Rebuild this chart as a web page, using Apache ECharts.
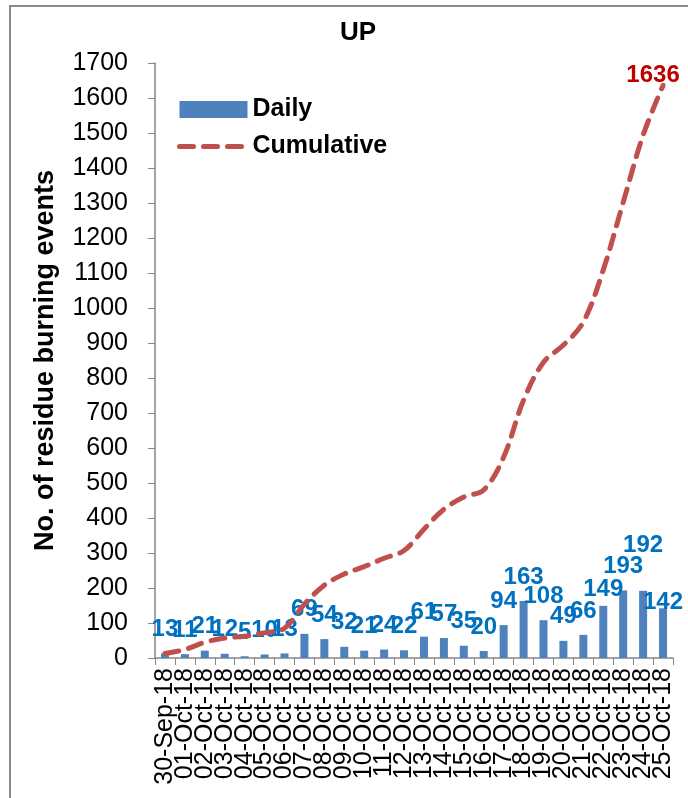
<!DOCTYPE html>
<html>
<head>
<meta charset="utf-8">
<script src="https://cdn.jsdelivr.net/npm/echarts@6/dist/echarts.min.js"></script>
<style>
html,body{margin:0;padding:0;background:#fff;}
#chart{width:688px;height:798px;}
</style>
</head>
<body>
<div id="chart"></div>
<script>
const categories = ['30-Sep-18','01-Oct-18','02-Oct-18','03-Oct-18','04-Oct-18','05-Oct-18','06-Oct-18','07-Oct-18','08-Oct-18','09-Oct-18','10-Oct-18','11-Oct-18','12-Oct-18','13-Oct-18','14-Oct-18','15-Oct-18','16-Oct-18','17-Oct-18','18-Oct-18','19-Oct-18','20-Oct-18','21-Oct-18','22-Oct-18','23-Oct-18','24-Oct-18','25-Oct-18'];
const daily = [13,11,21,12,5,10,13,69,54,32,21,24,22,61,57,35,20,94,163,108,49,66,149,193,192,142];
const cumulative = [13,24,45,57,62,72,85,154,208,240,261,285,307,368,425,460,480,574,737,845,894,960,1109,1302,1494,1636];
const yTicks = {min:0, max:1700, interval:100};

const FONT = '"Liberation Sans", Arial, sans-serif';
// label nudges (layout only), matching manually moved labels in the reference
const labelNudge = {22: 8, 24: -21, 25: 18};

const chart = echarts.init(document.getElementById('chart'), null, {renderer:'canvas'});
const dailyData = daily.map((v, i) => {
  const item = {value: v};
  if (labelNudge[i] !== undefined) item.label = {offset: [0, labelNudge[i]]};
  return item;
});
const lastIdx = cumulative.length - 1;
const cumData = cumulative.map((v, i) => i === lastIdx
  ? {value: v, label: {show: true, position: 'top', distance: 0, offset: [-10, 2], color: '#C00000', fontWeight: 'bold', fontSize: 24, fontFamily: FONT}}
  : v);

const dashStyle = {color: '#C0504D', width: 5, type: [14, 10], cap: 'round'};

chart.setOption({
  animation: false,
  backgroundColor: '#ffffff',
  textStyle: {fontFamily: FONT},
  title: {
    text: 'UP', left: 340, top: 20, padding: 0,
    textStyle: {fontSize: 26, fontWeight: 'bold', color: '#000', fontFamily: FONT}
  },
  graphic: [{
    type: 'rect', shape: {x: 10, y: 6, width: 700, height: 820},
    style: {fill: 'none', stroke: '#8a8a8a', lineWidth: 2}, silent: true
  }],
  legend: {
    orient: 'vertical', left: 172, top: 92, itemWidth: 68, itemHeight: 17, itemGap: 12,
    textStyle: {fontSize: 25, fontWeight: 'bold', color: '#000', fontFamily: FONT},
    data: [
      {name: 'Daily', icon: 'rect'},
      {name: 'Cumulative', itemStyle: {opacity: 0}, lineStyle: {width: 5, type: [14, 10], cap: 'round', color: '#C0504D'}}
    ]
  },
  grid: {left: 155, right: 15, top: 63, bottom: 140, containLabel: false},
  xAxis: {
    type: 'category', data: categories, boundaryGap: true,
    axisLine: {lineStyle: {color: '#868686', width: 1.5}},
    axisTick: {show: true, length: 7, lineStyle: {color: '#868686'}},
    axisLabel: {interval: 0, rotate: 90, fontSize: 25, color: '#000', margin: 10, fontFamily: FONT}
  },
  yAxis: {
    type: 'value', min: yTicks.min, max: yTicks.max, interval: yTicks.interval,
    name: 'No. of residue burning events', nameLocation: 'middle', nameRotate: 90, nameGap: 96,
    nameTextStyle: {fontSize: 27, fontWeight: 'bold', color: '#000', fontFamily: FONT},
    axisLine: {show: true, lineStyle: {color: '#868686', width: 1.5}},
    axisTick: {show: true, length: 7, lineStyle: {color: '#868686'}},
    splitLine: {show: false},
    axisLabel: {fontSize: 25, color: '#000', margin: 27, fontFamily: FONT, formatter: v => String(v)}
  },
  series: [
    {
      name: 'Daily', type: 'bar', data: dailyData, barWidth: 8,
      itemStyle: {color: '#4F81BD'},
      label: {show: true, position: 'top', distance: 12, color: '#0070C0', fontWeight: 'bold', fontSize: 24, fontFamily: FONT}
    },
    {
      name: 'Cumulative', type: 'line', data: cumData, smooth: 0.35,
      symbol: 'circle', symbolSize: 0, showSymbol: true,
      lineStyle: dashStyle,
      itemStyle: {color: '#C0504D'},
      z: 3
    }
  ]
});
</script>
</body>
</html>
